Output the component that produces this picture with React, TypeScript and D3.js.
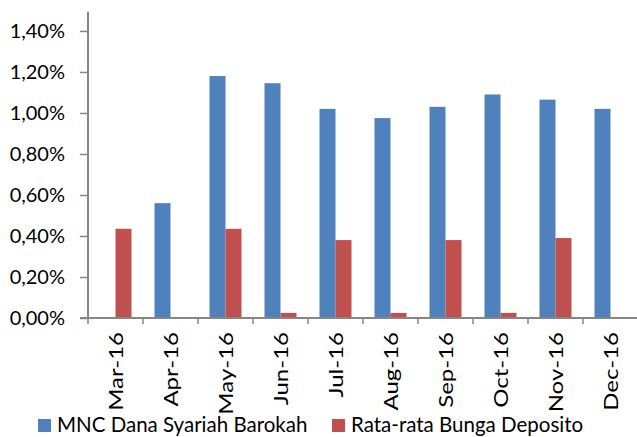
import * as d3 from 'd3'
import { useRef, useEffect } from 'react'

const months = ['Mar-16', 'Apr-16', 'May-16', 'Jun-16', 'Jul-16', 'Aug-16', 'Sep-16', 'Oct-16', 'Nov-16', 'Dec-16']
// values in percent, null = no bar
const mncValues = [null, 0.56, 1.18, 1.145, 1.02, 0.975, 1.03, 1.09, 1.065, 1.02]
const depositoValues = [0.435, null, 0.435, 0.025, 0.38, 0.025, 0.38, 0.025, 0.39, null]
const yTicks = [0, 0.2, 0.4, 0.6, 0.8, 1.0, 1.2, 1.4]
const seriesNames = ['MNC Dana Syariah Barokah', 'Rata-rata Bunga Deposito']
const colors = ['#4F81BD', '#C0504D']

const FONT = 'Lato, "Open Sans", sans-serif'

export default function App() {
    const ref = useRef<SVGSVGElement>(null)

    useEffect(() => {
        const svg = d3.select(ref.current)
        svg.selectAll('*').remove()

        const x = d3.scaleBand().domain(months).range([88, 638])
        const y = d3.scaleLinear().domain([0, 1.49]).range([318, 12.5])
        const inner = d3.scaleBand().domain(['0', '1']).range([0, 32])
        const offset = (x.bandwidth() - 32) / 2
        const pct = d3.formatLocale({ decimal: ',', thousands: '.', grouping: [3], currency: ['', ''] }).format('.2f')

        // bars
        const series = [mncValues, depositoValues]
        series.forEach((vals, si) => {
            svg.append('g')
                .selectAll('rect')
                .data(months.map((m, i) => ({ m, v: vals[i] })).filter((d) => d.v !== null))
                .enter()
                .append('rect')
                .attr('x', (d) => (x(d.m) as number) + offset + (inner(String(si)) as number))
                .attr('width', inner.bandwidth())
                .attr('y', (d) => y(d.v as number))
                .attr('height', (d) => y(0) - y(d.v as number))
                .attr('fill', colors[si])
        })

        // y axis
        const gy = svg.append('g').attr('transform', 'translate(88,0)')
        gy.call(
            d3.axisLeft(y).tickValues(yTicks).tickSize(8).tickPadding(15).tickFormat((d) => pct(d as number) + '%')
        )
        gy.select('.domain').remove()
        gy.append('line').attr('x1', 0).attr('x2', 0).attr('y1', 12).attr('y2', 318).attr('stroke', '#868686').attr('stroke-width', 2)
        gy.selectAll('.tick line').attr('stroke', '#868686').attr('stroke-width', 1.5)
        gy.selectAll('.tick text').style('font-family', FONT).style('font-size', '20px').attr('fill', '#000')

        // x axis
        const gx = svg.append('g').attr('transform', 'translate(0,318)')
        gx.append('line').attr('x1', 80).attr('x2', 637).attr('stroke', '#868686').attr('stroke-width', 2)
        gx.selectAll('.tk')
            .data(months)
            .enter()
            .append('line')
            .attr('x1', (d) => x(d) as number)
            .attr('x2', (d) => x(d) as number)
            .attr('y1', 0)
            .attr('y2', 6)
            .attr('stroke', '#868686')
            .attr('stroke-width', 1.5)
        gx.selectAll('.lbl')
            .data(months)
            .enter()
            .append('text')
            .attr('transform', (d) => `translate(${(x(d) as number) + x.bandwidth() / 2 + 7},14) rotate(-90) scale(1.2,1)`)
            .attr('text-anchor', 'end')
            .style('font-family', FONT)
            .style('font-size', '20px')
            .attr('fill', '#000')
            .text((d) => d)

        // legend
        const lg = svg.append('g')
        const items = [
            { x: 38, name: seriesNames[0], color: colors[0] },
            { x: 332, name: seriesNames[1], color: colors[1] },
        ]
        items.forEach((it) => {
            lg.append('rect').attr('x', it.x).attr('y', 419).attr('width', 13).attr('height', 13).attr('fill', it.color)
            lg.append('text')
                .attr('x', it.x + 19)
                .attr('y', 432)
                .style('font-family', FONT)
                .style('font-size', '20.5px')
                .attr('fill', '#000')
                .text(it.name)
        })
    }, [])

    return (
        <svg
            ref={ref}
            width={637}
            height={437}
            style={{ position: 'absolute', left: 0, top: 0, background: '#fff' }}
        />
    )
}
